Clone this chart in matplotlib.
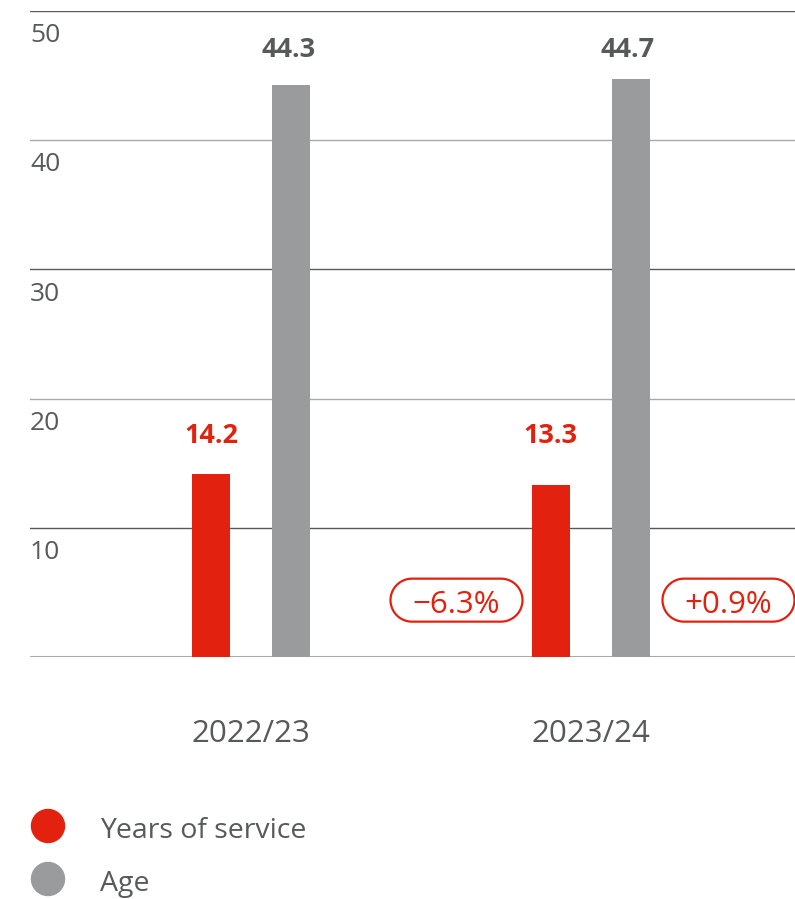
import numpy as np
import matplotlib
matplotlib.use("Agg")
import matplotlib.pyplot as plt
from matplotlib.patches import Circle, Polygon

categories = ["2022/23", "2023/24"]
years_of_service = [14.2, 13.3]
age = [44.3, 44.7]
changes = ["\u22126.3%", "+0.9%"]
yticks = [10, 20, 30, 40, 50]
legend_labels = ["Years of service", "Age"]

RED = "#E2220E"
GRAY = "#9A9B9D"
DARK = "#58595B"

plt.rcParams["font.family"] = ["Open Sans", "DejaVu Sans"]

W, H = 795, 899
fig = plt.figure(figsize=(W / 100, H / 100), dpi=100)
ax = fig.add_axes([30 / W, 1 - 657 / H, 765 / W, 646 / H])

px = 339.5  # pixels per category unit
ax.set_xlim((30 - 251) / px, (795 - 251) / px)
ax.set_ylim(0, 50)

off = 40 / px
w = 38 / px
xs = list(range(len(categories)))

# gridlines
for t in yticks:
    col = DARK if t in (10, 30, 50) else "#AAAAAA"
    ax.axhline(t, color=col, lw=1.0, zorder=0)
ax.axhline(0, color="#AAAAAA", lw=2.2, zorder=0)

ax.bar([x - off for x in xs], years_of_service, width=w, color=RED, zorder=2)
ax.bar([x + off for x in xs], age, width=w, color=GRAY, zorder=2)

ry = max(years_of_service)
gy = max(age)
for x, v in zip(xs, years_of_service):
    ax.annotate(f"{v:.1f}", (x - off, ry), xytext=(0, 22), textcoords="offset points",
                ha="center", va="baseline", fontsize=19.5, fontweight="bold", color=RED)
for x, v in zip(xs, age):
    ax.annotate(f"{v:.1f}", (x + off, gy), xytext=(-2, 16), textcoords="offset points",
                ha="center", va="baseline", fontsize=19.5, fontweight="bold", color=DARK)

# change badges for the latest year (pill outlines)
fig.canvas.draw()
badge_pos = [xs[1] - off - 94 / px, xs[1] + off + 98 / px]
for bx, lab in zip(badge_pos, changes):
    cx, cy = ax.transData.transform((bx, 4.4))
    bw, bh = 132, 43
    r = bh / 2
    a1 = np.linspace(-np.pi / 2, np.pi / 2, 40)
    a2 = np.linspace(np.pi / 2, 3 * np.pi / 2, 40)
    right = np.column_stack([cx + bw / 2 - r + r * np.cos(a1), cy + r * np.sin(a1)])
    left = np.column_stack([cx - bw / 2 + r + r * np.cos(a2), cy + r * np.sin(a2)])
    pts = np.vstack([right, left])
    fig.patches.append(Polygon(pts, closed=True, fc="white", ec=RED, lw=1.6,
                               transform=None, zorder=3))
    fig.text(cx / W, (cy - 13) / H, lab, ha="center", va="baseline", fontsize=22.5,
             color=RED, zorder=4)

# tick labels
for t in yticks:
    ax.annotate(str(t), (0, t), xycoords=("axes fraction", "data"), xytext=(0, -22.5),
                textcoords="offset points", ha="left", va="baseline", fontsize=19, color=DARK)

for x, c in zip(xs, categories):
    ax.annotate(c, (x, 0), xytext=(0, -61), textcoords="offset points",
                ha="center", va="baseline", fontsize=22.5, color=DARK, annotation_clip=False)

for sp in ax.spines.values():
    sp.set_visible(False)
ax.set_xticks([])
ax.set_yticks([])

# legend
for i, (lab, col) in enumerate(zip(legend_labels, [RED, GRAY])):
    cyp = 826 + i * 53
    fig.patches.append(Circle((48, H - cyp), 16.5, transform=None, color=col))
    fig.text(100 / W, 1 - (cyp + 12) / H, lab, ha="left", va="baseline", fontsize=20.5,
             color=DARK)

fig.savefig("out.png", dpi=100)
